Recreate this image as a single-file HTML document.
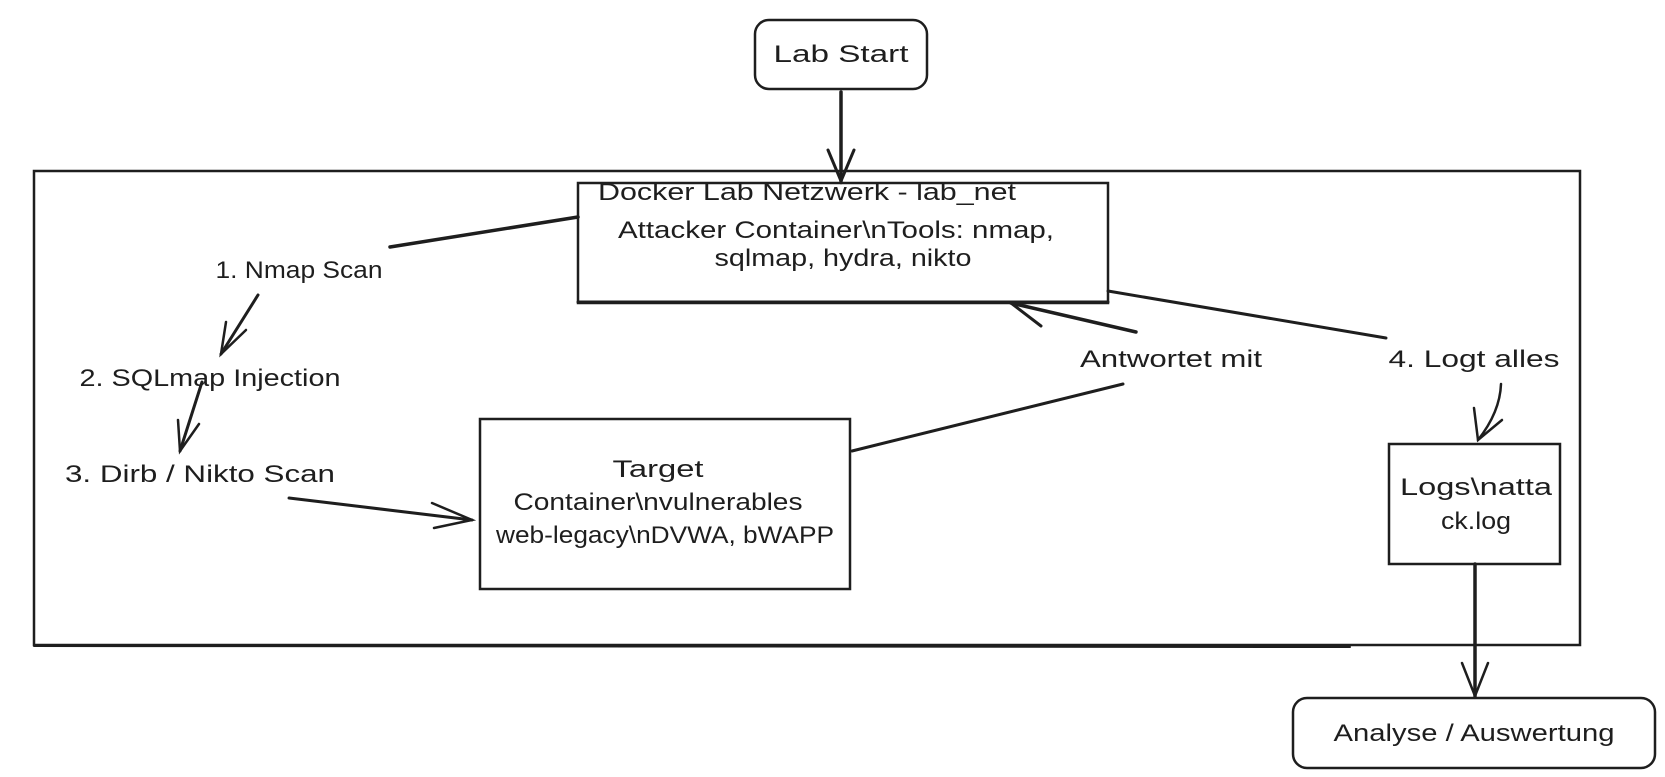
<!DOCTYPE html>
<html><head><meta charset="utf-8"><style>
html,body{margin:0;padding:0;background:#fff;}
svg{display:block;}
text{font-family:"Liberation Sans",sans-serif;font-size:24px;fill:#1e1e1e;}
</style></head><body>
<svg width="1665" height="777" viewBox="0 0 1665 777" xmlns="http://www.w3.org/2000/svg">
<g fill="none" stroke="#1e1e1e" stroke-width="2.5" stroke-linecap="round">
<rect x="34" y="171" width="1546" height="474"/>
<line x1="34" y1="646" x2="1350" y2="647" stroke-width="2"/>
<rect x="755" y="20" width="172" height="69" rx="14"/>
<rect x="578" y="183" width="530" height="120"/>
<line x1="578" y1="302" x2="1108" y2="302" stroke-width="3"/>
<rect x="480" y="419" width="370" height="170"/>
<rect x="1389" y="444" width="171" height="120"/>
<rect x="1293" y="698" width="362" height="70" rx="14"/>
<path d="M841 92 L841 181" stroke-width="3.5"/>
<path d="M828 150 L841 181 L854 150" stroke-width="3"/>
<path d="M578 217 L390 247" stroke-width="3.5"/>
<path d="M258 295 L221 354" stroke-width="3"/>
<path d="M226 322 L221 354 L246 330"/>
<path d="M202 382 L180 451" stroke-width="3"/>
<path d="M178 420 L180 451 L199 424"/>
<path d="M289 498 L472 520" stroke-width="3"/>
<path d="M432 503 L472 520 L434 528"/>
<path d="M852 451 L1123 384" stroke-width="3"/>
<path d="M1136 332 L1011 303" stroke-width="3.5"/>
<path d="M1011 303 L1041 326 M1011 303 L1048 302" stroke-width="3"/>
<path d="M1108 291 L1386 338" stroke-width="3"/>
<path d="M1501 384 Q1500 412 1478 440" stroke-width="2.5"/>
<path d="M1474 408 L1478 440 L1502 420"/>
<path d="M1475 564 L1475 696" stroke-width="3.5"/>
<path d="M1462 663 L1475 696 L1488 663" stroke-width="2.5"/>
</g>
<g text-anchor="middle" lengthAdjust="spacingAndGlyphs">
<text x="841" y="62" textLength="135" lengthAdjust="spacingAndGlyphs">Lab Start</text>
<text x="807" y="200" textLength="418" lengthAdjust="spacingAndGlyphs">Docker Lab Netzwerk - lab_net</text>
<text x="836" y="238" textLength="436" lengthAdjust="spacingAndGlyphs">Attacker Container\nTools: nmap,</text>
<text x="843" y="266" textLength="257" lengthAdjust="spacingAndGlyphs">sqlmap, hydra, nikto</text>
<text x="299" y="278" textLength="167" lengthAdjust="spacingAndGlyphs">1. Nmap Scan</text>
<text x="210" y="386" textLength="261" lengthAdjust="spacingAndGlyphs">2. SQLmap Injection</text>
<text x="200" y="482" textLength="270" lengthAdjust="spacingAndGlyphs">3. Dirb / Nikto Scan</text>
<text x="658" y="477" textLength="91" lengthAdjust="spacingAndGlyphs">Target</text>
<text x="658" y="510" textLength="289" lengthAdjust="spacingAndGlyphs">Container\nvulnerables</text>
<text x="665" y="543" textLength="338" lengthAdjust="spacingAndGlyphs">web-legacy\nDVWA, bWAPP</text>
<text x="1171" y="367" textLength="182" lengthAdjust="spacingAndGlyphs">Antwortet mit</text>
<text x="1474" y="367" textLength="171" lengthAdjust="spacingAndGlyphs">4. Logt alles</text>
<text x="1476" y="495" textLength="152" lengthAdjust="spacingAndGlyphs">Logs\natta</text>
<text x="1476" y="529" textLength="70" lengthAdjust="spacingAndGlyphs">ck.log</text>
<text x="1474" y="741" textLength="281" lengthAdjust="spacingAndGlyphs">Analyse / Auswertung</text>
</g>
</svg>
</body></html>
